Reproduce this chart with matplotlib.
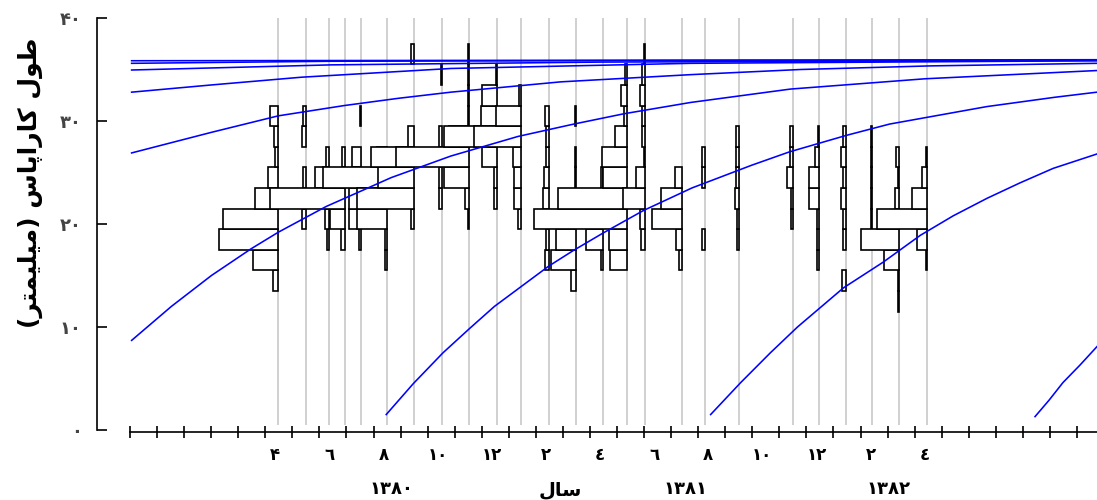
import numpy as np
import matplotlib
matplotlib.use("Agg")
import matplotlib.pyplot as plt
import matplotlib.transforms as mtransforms

plt.rcParams['font.family'] = ['DejaVu Sans']

# sample dates (months, label "4" of 1380 = 4) and length bins (mm)
sample_months = [4.11, 5.14, 5.99, 6.58, 7.17, 8.13, 9.13, 10.16, 11.16, 12.19, 13.08,
                 14.11, 15.11, 16.10, 16.99, 17.65, 19.02, 19.90, 21.12, 23.15, 24.11,
                 25.11, 26.07, 27.06, 28.10]
bin_lower = [11.5, 13.5, 15.5, 17.5, 19.5, 21.5, 23.5, 25.5, 27.5, 29.5, 31.5, 33.5, 35.5]

# relative frequencies per sample, one value per bin (bottom to top)
freqs = [
    [0, 5, 25, 59, 55, 23, 10, 3, 4, 8, 0, 0, 0],
    [0, 0, 0, 0, 4, 2, 3, 0, 4, 3, 0, 0, 0],
    [0, 0, 0, 2, 4, 0, 14, 3, 0, 0, 0, 0, 0],
    [0, 0, 0, 4, 15, 75, 2, 3, 0, 0, 0, 0, 0],
    [0, 0, 0, 2, 12, 12, 0, 9, 0, 1, 0, 0, 0],
    [0, 0, 2, 2, 30, 0, 64, 10, 0, 0, 0, 0, 0],
    [0, 0, 0, 0, 3, 57, 36, 43, 6, 0, 0, 0, 3],
    [0, 0, 0, 0, 0, 3, 3, 1, 3, 0, 0, 1, 0],
    [0, 0, 0, 0, 1, 4, 25, 73, 20, 1, 1, 1, 1],
    [0, 0, 0, 0, 0, 3, 3, 15, 53, 16, 15, 1, 0],
    [0, 0, 0, 0, 3, 7, 7, 8, 47, 25, 2, 0, 0],
    [0, 0, 4, 3, 3, 6, 5, 3, 3, 4, 0, 0, 0],
    [0, 5, 25, 20, 1, 0, 1, 1, 0, 1, 0, 0, 0],
    [0, 0, 2, 17, 2, 2, 2, 0, 0, 0, 0, 0, 0],
    [0, 0, 17, 18, 93, 69, 24, 25, 12, 3, 6, 2, 0],
    [0, 0, 0, 4, 5, 22, 9, 1, 3, 3, 5, 3, 1],
    [0, 0, 3, 6, 30, 21, 7, 0, 0, 0, 0, 0, 0],
    [0, 0, 0, 3, 0, 0, 3, 3, 0, 0, 0, 0, 0],
    [0, 0, 0, 2, 2, 4, 3, 3, 3, 0, 0, 0, 0],
    [0, 0, 0, 0, 2, 2, 6, 3, 3, 0, 0, 0, 0],
    [0, 0, 2, 2, 2, 10, 10, 4, 1, 0, 0, 0, 0],
    [0, 4, 0, 3, 3, 5, 3, 5, 3, 0, 0, 0, 0],
    [0, 0, 0, 0, 1, 1, 1, 1, 1, 0, 0, 0, 0],
    [1, 1, 15, 38, 1, 4, 1, 3, 0, 0, 0, 0, 0],
    [0, 0, 1, 10, 50, 15, 5, 1, 0, 0, 0, 0, 0],
]

# growth curves (month, length)
curves = [
    ([-1.31, 0.16, 1.64, 3.11, 4.11, 5.88, 7.17, 8.28, 10.49, 12.97, 15.03, 16.88, 19.35, 23.04, 28.02, 34.37],
     [8.7, 12.0, 15.0, 17.6, 19.2, 21.7, 23.2, 24.5, 26.6, 28.5, 29.7, 30.7, 31.8, 33.1, 34.1, 34.9]),
    ([8.1, 9.1, 10.2, 11.2, 12.1, 14.1, 15.0, 16.1, 17.6, 19.4, 21.6, 23.0, 25.1, 26.7, 30.3, 32.8, 34.37],
     [1.5, 4.5, 7.5, 9.9, 12.0, 15.9, 17.4, 19.1, 21.3, 23.5, 25.7, 27.0, 28.6, 29.7, 31.4, 32.3, 32.8]),
    ([20.09, 21.2, 22.3, 23.3, 25.0, 26.47, 27.84, 29.06, 30.31, 31.53, 32.75, 34.37],
     [1.5, 4.6, 7.5, 10.0, 13.8, 16.3, 18.9, 20.8, 22.5, 24.0, 25.4, 26.8]),
    ([32.08, 32.6, 33.11, 33.74, 34.37],
     [1.3, 2.9, 4.6, 6.3, 8.1]),
    ([-1.31, 1.64, 4.11, 6.55, 8.54, 10.49, 14.55, 19.35, 23.41, 28.21, 34.37],
     [26.9, 28.9, 30.5, 31.5, 32.2, 32.8, 33.8, 34.5, 35.0, 35.35, 35.6]),
    ([-1.31, 1.64, 4.96, 10.49, 19.35, 34.37],
     [32.8, 33.5, 34.25, 35.1, 35.6, 35.85]),
    ([-1.31, 6.07, 16.03, 34.37],
     [34.95, 35.45, 35.72, 35.87]),
    ([-1.31, 6.07, 19.7, 34.37],
     [35.6, 35.8, 35.88, 35.92]),
    ([-1.31, 34.37],
     [35.85, 35.95]),
]

month_ticks = np.arange(-1.37, 34.0, 1.0)
label_months = [4, 6, 8, 10, 12, 14, 16, 18, 20, 22, 24, 26, 28]
month_labels = ['۴', '٦', '٨', '١٠', '١٢', '٢', '٤', '٦', '٨', '١٠', '١٢', '٢', '٤']
year_pos = [8.28, 19.17, 26.66]
year_labels = ['١٣٨٠', '١٣٨١', '١٣٨٢']
ytick_vals = [0, 10, 20, 30, 40]
ytick_labels = ['۰', '۱۰', '۲۰', '۳۰', '۴۰']

fig = plt.figure(figsize=(10.97, 5.0), dpi=100)
ax = fig.add_axes([130 / 1097, 70 / 500, 967 / 1097, 412 / 500])
ax.set_xlim(-1.314, 34.37)
ax.set_ylim(0, 40)

scale = 1 / 27.1  # months per frequency unit
ax.vlines(sample_months, 0.5, 40.0, colors='#c4c4c4', lw=1.1, zorder=1)
for i, (m, f) in enumerate(zip(sample_months, freqs)):
    f = np.array(f, dtype=float) * scale
    keep = f > 0
    ax.barh(np.array(bin_lower)[keep] + 1.0, f[keep], height=2.0, left=m - f[keep],
            color='white', edgecolor='black', lw=1.2, zorder=10 + i)

for cx, cy in curves:
    ax.plot(cx, cy, color='#0000ff', lw=1.15, zorder=100)

for s in ['top', 'right']:
    ax.spines[s].set_visible(False)
ax.spines['left'].set_position(('outward', 23.8))
ax.spines['bottom'].set_position(('outward', 1.4))
ax.spines['left'].set_linewidth(1.2)
ax.spines['bottom'].set_linewidth(1.2)

ax.set_yticks(ytick_vals)
ax.set_yticklabels(ytick_labels, fontsize=13, fontweight='bold', color='#444444')
ax.tick_params(axis='y', direction='in', length=7, width=1.2, pad=11)

ax.set_xticks(label_months)
ax.set_xticklabels(month_labels, fontsize=12, fontweight='bold')
ax.set_xticks(month_ticks, minor=True)
ax.tick_params(axis='x', which='major', length=0, pad=10)
ax.tick_params(axis='x', which='minor', direction='inout', length=9, width=1.2)

trans = mtransforms.blended_transform_factory(ax.transData, fig.transFigure)
for p, lab in zip(year_pos, year_labels):
    ax.text(p, 1 - 489 / 500, lab, transform=trans, ha='center', va='center',
            fontsize=13, fontweight='bold')
ax.text(14.55, 1 - 490 / 500, 'ﻝﺎﺳ', transform=trans, ha='center', va='center',
        fontsize=14, fontweight='bold')

fig.text(30 / 1097, 1 - 183 / 500, '(ﺮﺘﻤﯿﻠﯿﻣ) ﺱﺎﭘﺍﺭﺎﮐ ﻝﻮﻃ', rotation=90,
         ha='center', va='center', fontsize=18, fontweight='bold')

fig.savefig('out.png', dpi=100)
